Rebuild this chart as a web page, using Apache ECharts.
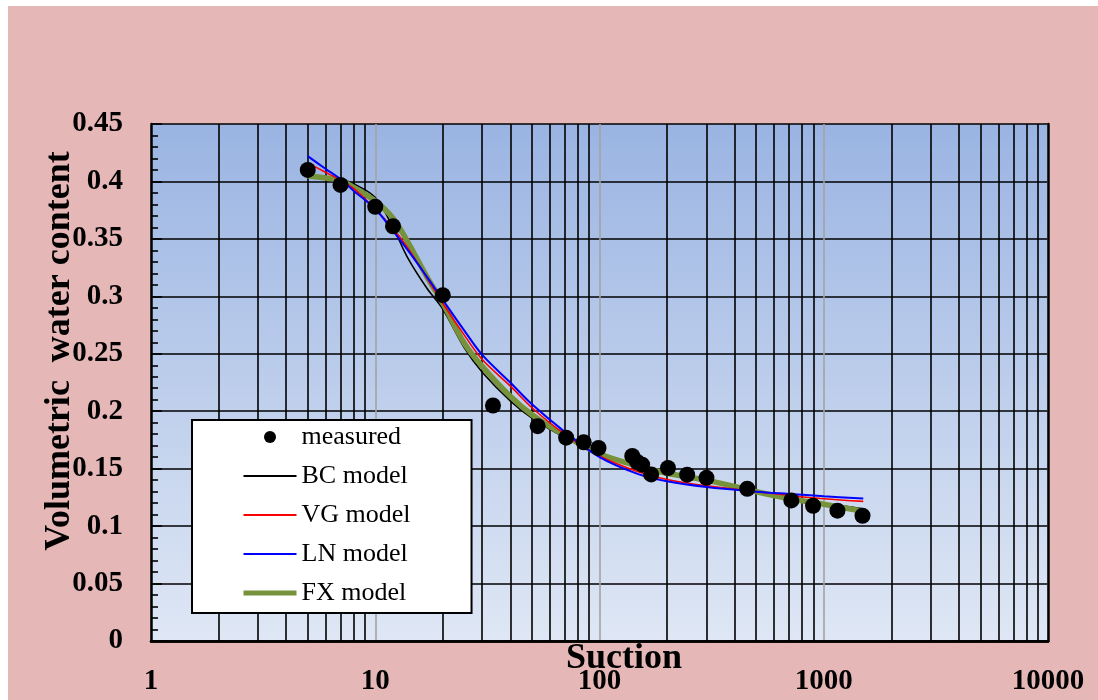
<!DOCTYPE html>
<html>
<head>
<meta charset="utf-8">
<title>Soil water characteristic curve</title>
<script src="https://cdn.jsdelivr.net/npm/echarts@6/dist/echarts.min.js"></script>
<style>
    html, body { margin: 0; padding: 0; background: #fff; }
    #chart { width: 1098px; height: 700px; }
</style>
</head>
<body>
<div id="chart"></div>
<script>
// 实测点 (suction, volumetric water content)
var measuredSuction = [5, 7, 10, 12, 20, 33.5, 53, 71, 85, 99, 140, 147, 155, 170, 202, 246, 300, 456, 717, 896, 1151, 1489];
var measuredTheta = [0.410, 0.397, 0.378, 0.361, 0.301, 0.205, 0.187, 0.177, 0.173, 0.168, 0.161, 0.156, 0.1535, 0.145, 0.1506, 0.1448, 0.142, 0.1325, 0.1224, 0.1177, 0.1134, 0.109];

// 模型曲线读数点
var curveSuction = [5, 6, 7, 8, 10, 12, 14, 17, 20, 25, 30, 40, 50, 70, 100, 150, 200, 300, 500, 700, 1000, 1500];
var bcTheta = [0.405, 0.404, 0.402, 0.398, 0.386, 0.360, 0.333, 0.307, 0.289, 0.255, 0.234, 0.209, 0.194, 0.177, 0.163, 0.152, 0.146, 0.139, 0.130, 0.125, 0.120, 0.115];
var vgTheta = [0.416, 0.408, 0.401, 0.394, 0.376, 0.359, 0.342, 0.316, 0.294, 0.266, 0.245, 0.222, 0.203, 0.180, 0.161, 0.147, 0.1405, 0.135, 0.130, 0.1268, 0.1238, 0.1215];
var lnTheta = [0.422, 0.411, 0.402, 0.392, 0.376, 0.357, 0.340, 0.317, 0.297, 0.270, 0.249, 0.225, 0.206, 0.182, 0.160, 0.145, 0.139, 0.134, 0.130, 0.128, 0.126, 0.124];
var fxTheta = [0.405, 0.403, 0.401, 0.395, 0.383, 0.368, 0.347, 0.317, 0.294, 0.259, 0.239, 0.213, 0.197, 0.179, 0.163, 0.152, 0.146, 0.140, 0.130, 0.124, 0.119, 0.113];

// 坐标轴刻度
var xTickLabels = ['1', '10', '100', '1000', '10000'];
var yTickLabels = ['0', '0.05', '0.1', '0.15', '0.2', '0.25', '0.3', '0.35', '0.4', '0.45'];
var decades = [1, 10, 100, 1000];
var minorSteps = [2, 3, 4, 5, 6, 7, 8, 9];

var serif = 'Liberation Serif';

function pairs(xs, ys) {
    var out = [];
    for (var i = 0; i < xs.length; i++) {
        out.push([xs[i], ys[i]]);
    }
    return out;
}

// 对数轴次网格线 (2..9 每个数量级)
var minorLines = [];
decades.forEach(function (d) {
    minorSteps.forEach(function (m) {
        minorLines.push({ xAxis: d * m });
    });
});

// 图例里线条不显示圆点
function lineLegend(name, width) {
    return { name: name, itemStyle: { opacity: 0 }, lineStyle: { width: width } };
}

var chart = echarts.init(document.getElementById('chart'));

var option = {
    animation: false,
    backgroundColor: '#e6b7b7',
    grid: {
        left: 151,
        right: 50,
        top: 124,
        bottom: 59,
        show: true,
        borderWidth: 0,
        backgroundColor: {
            type: 'linear', x: 0, y: 0, x2: 0, y2: 1,
            colorStops: [
                { offset: 0, color: '#9ab4e2' },
                { offset: 1, color: '#dfe7f5' }
            ]
        }
    },
    graphic: [
        { type: 'rect', shape: { x: 0, y: 0, width: 1098, height: 6 }, style: { fill: '#fff' } },
        { type: 'rect', shape: { x: 0, y: 0, width: 8, height: 700 }, style: { fill: '#fff' } },
        {
            type: 'text', left: 566, top: 641,
            style: { text: 'Suction', font: 'bold 36px "Liberation Serif"', fill: '#000' }
        },
        {
            type: 'text', x: 60, y: 351, rotation: Math.PI / 2,
            style: {
                text: 'Volumetric  water content', font: 'bold 36px "Liberation Serif"', fill: '#000',
                align: 'center', verticalAlign: 'middle'
            }
        }
    ],
    legend: {
        left: 192,
        top: 420,
        z: 20,
        orient: 'vertical',
        backgroundColor: '#fff',
        borderColor: '#000',
        borderWidth: 2,
        borderRadius: 0,
        padding: [4, 61, 7, 49],
        itemWidth: 53,
        itemHeight: 12,
        itemGap: 13,
        selectedMode: false,
        textStyle: { fontFamily: serif, fontSize: 26, lineHeight: 26, color: '#000' },
        data: [
            { name: 'measured', icon: 'circle', itemStyle: { opacity: 1 } },
            lineLegend('BC model', 2),
            lineLegend('VG model', 2),
            lineLegend('LN model', 2),
            lineLegend('FX model', 5)
        ]
    },
    xAxis: [
        {
            type: 'log',
            logBase: 10,
            min: 1,
            max: 10000,
            axisLine: { show: true, onZero: false, lineStyle: { color: '#000', width: 2.5 } },
            axisTick: { show: false },
            axisLabel: {
                margin: 26,
                fontFamily: serif,
                fontWeight: 'bold',
                fontSize: 29,
                color: '#000',
                formatter: function (v, i) { return xTickLabels[i]; }
            },
            splitLine: { show: true, lineStyle: { color: '#a3a3a3', width: 1.6 } }
        },
        {
            type: 'log',
            position: 'top',
            min: 1,
            max: 10000,
            axisLine: { show: true, lineStyle: { color: '#000', width: 2.5 } },
            axisTick: { show: false },
            axisLabel: { show: false },
            splitLine: { show: false }
        }
    ],
    yAxis: [
        {
            type: 'value',
            min: 0,
            max: 0.45,
            interval: 0.05,
            axisLine: { show: true, onZero: false, lineStyle: { color: '#000', width: 2.5 } },
            axisTick: { show: true, inside: true, length: 11, lineStyle: { color: '#000', width: 1.6 } },
            minorTick: { show: true, splitNumber: 5, length: 7, lineStyle: { color: '#000', width: 1.6 } },
            axisLabel: {
                margin: 28,
                fontFamily: serif,
                fontWeight: 'bold',
                fontSize: 29,
                color: '#000',
                formatter: function (v, i) { return yTickLabels[i]; }
            },
            splitLine: { show: true, lineStyle: { color: '#000', width: 1.6 } }
        },
        {
            type: 'value',
            position: 'right',
            min: 0,
            max: 0.45,
            interval: 0.05,
            axisLine: { show: true, lineStyle: { color: '#000', width: 2.5 } },
            axisTick: { show: false },
            axisLabel: { show: false },
            splitLine: { show: false }
        }
    ],
    series: [
        {
            name: 'gridlines',
            type: 'line',
            data: [],
            z: 1,
            silent: true,
            markLine: {
                silent: true,
                z: 1,
                symbol: ['none', 'none'],
                label: { show: false },
                lineStyle: { type: 'solid', color: '#000', width: 1.6 },
                data: minorLines
            }
        },
        {
            name: 'BC model',
            type: 'line',
            smooth: 0.35,
            symbol: 'none',
            color: '#000',
            lineStyle: { color: '#000', width: 1.6 },
            z: 3,
            data: pairs(curveSuction, bcTheta)
        },
        {
            name: 'FX model',
            type: 'line',
            smooth: 0.35,
            symbol: 'none',
            color: '#76933c',
            lineStyle: { color: '#76933c', width: 5.5 },
            z: 4,
            data: pairs(curveSuction, fxTheta)
        },
        {
            name: 'VG model',
            type: 'line',
            smooth: 0.35,
            symbol: 'none',
            color: '#ff0000',
            lineStyle: { color: '#ff0000', width: 1.6 },
            z: 5,
            data: pairs(curveSuction, vgTheta)
        },
        {
            name: 'LN model',
            type: 'line',
            smooth: 0.35,
            symbol: 'none',
            color: '#0000ff',
            lineStyle: { color: '#0000ff', width: 2 },
            z: 6,
            data: pairs(curveSuction, lnTheta)
        },
        {
            name: 'measured',
            type: 'scatter',
            symbol: 'circle',
            symbolSize: 16,
            color: '#000',
            itemStyle: { color: '#000', opacity: 1 },
            z: 7,
            data: pairs(measuredSuction, measuredTheta)
        }
    ]
};

chart.setOption(option);
</script>
</body>
</html>
